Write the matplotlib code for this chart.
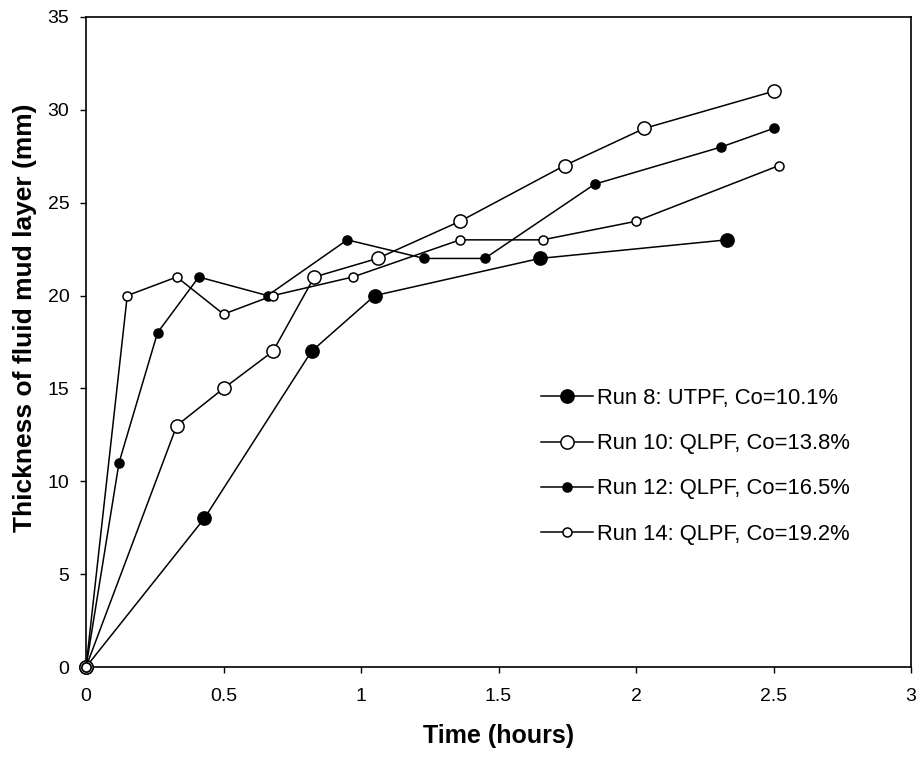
import matplotlib.pyplot as plt

plt.rcParams['font.family'] = ['Liberation Sans', 'DejaVu Sans']

# Time (hours) and thickness of fluid mud layer (mm) for each run
run8_t = [0, 0.43, 0.82, 1.05, 1.65, 2.33]
run8_h = [0, 8, 17, 20, 22, 23]

run10_t = [0, 0.33, 0.50, 0.68, 0.83, 1.06, 1.36, 1.74, 2.03, 2.50]
run10_h = [0, 13, 15, 17, 21, 22, 24, 27, 29, 31]

run12_t = [0, 0.12, 0.26, 0.41, 0.66, 0.95, 1.23, 1.45, 1.85, 2.31, 2.50]
run12_h = [0, 11, 18, 21, 20, 23, 22, 22, 26, 28, 29]

run14_t = [0, 0.15, 0.33, 0.50, 0.68, 0.97, 1.36, 1.66, 2.00, 2.52]
run14_h = [0, 20, 21, 19, 20, 21, 23, 23, 24, 27]

labels = ['Run 8: UTPF, Co=10.1%', 'Run 10: QLPF, Co=13.8%',
          'Run 12: QLPF, Co=16.5%', 'Run 14: QLPF, Co=19.2%']

fig = plt.figure(figsize=(9.19, 7.58), dpi=100)
ax = fig.add_axes([0.0936, 0.12, 0.8977, 0.8576])

series = [
    (run8_t, run8_h, 'black', 9.5),
    (run10_t, run10_h, 'white', 9.5),
    (run12_t, run12_h, 'black', 6.5),
    (run14_t, run14_h, 'white', 6.5),
]
for (t, h, face, ms), lab in zip(series, labels):
    ax.plot(t, h, '-o', color='black', lw=1.1, ms=ms, mfc=face, mec='black',
            mew=1.1, label=lab, clip_on=False, zorder=3)

ax.set_xlim(0, 3)
ax.set_ylim(0, 35)
ax.set_xticks([0, 0.5, 1, 1.5, 2, 2.5, 3])
ax.set_xticklabels(['0', '0.5', '1', '1.5', '2', '2.5', '3'])
ax.set_yticks(range(0, 36, 5))
ax.tick_params(direction='out', length=4, width=1, labelsize=14)
ax.tick_params(axis='x', pad=11)
ax.tick_params(axis='y', pad=8)
for s in ax.spines.values():
    s.set_linewidth(1.2)

ax.set_xlabel('Time (hours)', fontsize=18, fontweight='bold', labelpad=14)
ax.set_ylabel('Thickness of fluid mud layer (mm)', fontsize=19, fontweight='bold')
ax.yaxis.set_label_coords(-0.060, 0.537)

ax.legend(loc='upper left', bbox_to_anchor=(0.551, 0.429), frameon=False,
          fontsize=15.8, handlelength=2.37, handletextpad=0.19, labelspacing=1.1,
          borderpad=0, borderaxespad=0)

fig.savefig('out.png', dpi=100)
